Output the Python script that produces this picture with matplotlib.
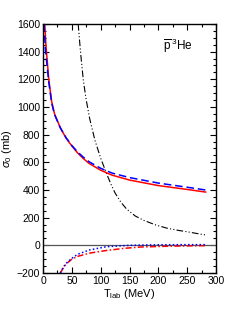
import numpy as np
import matplotlib
matplotlib.use("Agg")
import matplotlib.pyplot as plt
from matplotlib.ticker import MultipleLocator

plt.rcParams['font.family'] = ['Liberation Sans', 'DejaVu Sans']
plt.rcParams['mathtext.fontset'] = 'custom'
plt.rcParams['mathtext.rm'] = 'Liberation Sans'
plt.rcParams['mathtext.it'] = 'Liberation Sans:italic'

# courbe rouge pleine
T_red = [3, 5, 10, 15, 20, 30, 40, 50, 60, 70, 80, 100, 120, 150, 200, 250, 282]
s_red = [1600, 1450, 1200, 1040, 950, 850, 775, 718, 668, 627, 592, 543, 507, 472, 432, 404, 385]

# courbe bleue tiretée
T_blue = [2, 4, 10, 15, 20, 30, 40, 50, 60, 70, 80, 100, 120, 150, 200, 250, 282]
s_blue = [1600, 1420, 1180, 1030, 945, 850, 778, 722, 675, 637, 604, 557, 522, 490, 450, 420, 400]

# courbe noire tiret-point
T_dd = [61, 65, 70, 75, 81, 90, 100, 110, 118, 125, 135, 145, 160, 175, 195, 215, 235, 250, 265, 282]
s_dd = [1600, 1400, 1190, 1050, 915, 760, 630, 521, 440, 378, 312, 262, 212, 180, 148, 124, 108, 98, 87, 75]

# partie négative
T_neg_b = [30, 35, 40, 50, 60, 80, 110, 150, 200, 250, 282]
s_neg_b = [-200, -160, -130, -94, -65, -34, -10, 0, 4, 5, 5]
T_neg_r = [30, 35, 40, 50, 60, 80, 107, 140, 170, 220, 282]
s_neg_r = [-200, -165, -135, -100, -80, -57, -39, -22, -12, -6, -2]

fig = plt.figure(figsize=(2.49, 3.23), dpi=100)
ax = fig.add_axes([0.1727, 0.1548, 0.6948, 0.7709])

ax.axhline(0, color='#555555', lw=0.9)
ax.plot(T_dd, s_dd, color='black', lw=0.8, ls=(0, (6, 2, 1, 2, 1, 2)))
ax.plot(T_red, s_red, color='red', lw=1.1)
ax.plot(T_blue, s_blue, color='blue', lw=1.1, ls=(0, (5, 2.5)))
ax.plot(T_neg_r, s_neg_r, color='red', lw=1.1, ls=(0, (4, 1.5, 1, 1.5)))
ax.plot(T_neg_b, s_neg_b, color='blue', lw=1.1, ls=(0, (1, 1.5)))

ax.set_xlim(0, 300)
ax.set_ylim(-200, 1600)
ax.xaxis.set_major_locator(MultipleLocator(50))
ax.xaxis.set_minor_locator(MultipleLocator(25))
ax.yaxis.set_major_locator(MultipleLocator(200))
ax.yaxis.set_minor_locator(MultipleLocator(50))
ax.tick_params(which='both', direction='in', top=True, right=True, labelsize=7.5, pad=2)
ax.tick_params(which='major', length=4, width=0.8)
ax.tick_params(which='minor', length=2, width=0.8)
for sp in ax.spines.values():
    sp.set_linewidth(1.0)

ax.set_xlabel(r'T$_{\rm lab}$ (MeV)', fontsize=8, labelpad=1)
ax.set_ylabel(r'$\sigma_0$ (mb)', fontsize=8, labelpad=2)
ax.text(233, 1450, r'$\overline{\rm p}\,^{3}$He', fontsize=8.5, ha='center', va='center')

fig.savefig('out.png', dpi=100)
